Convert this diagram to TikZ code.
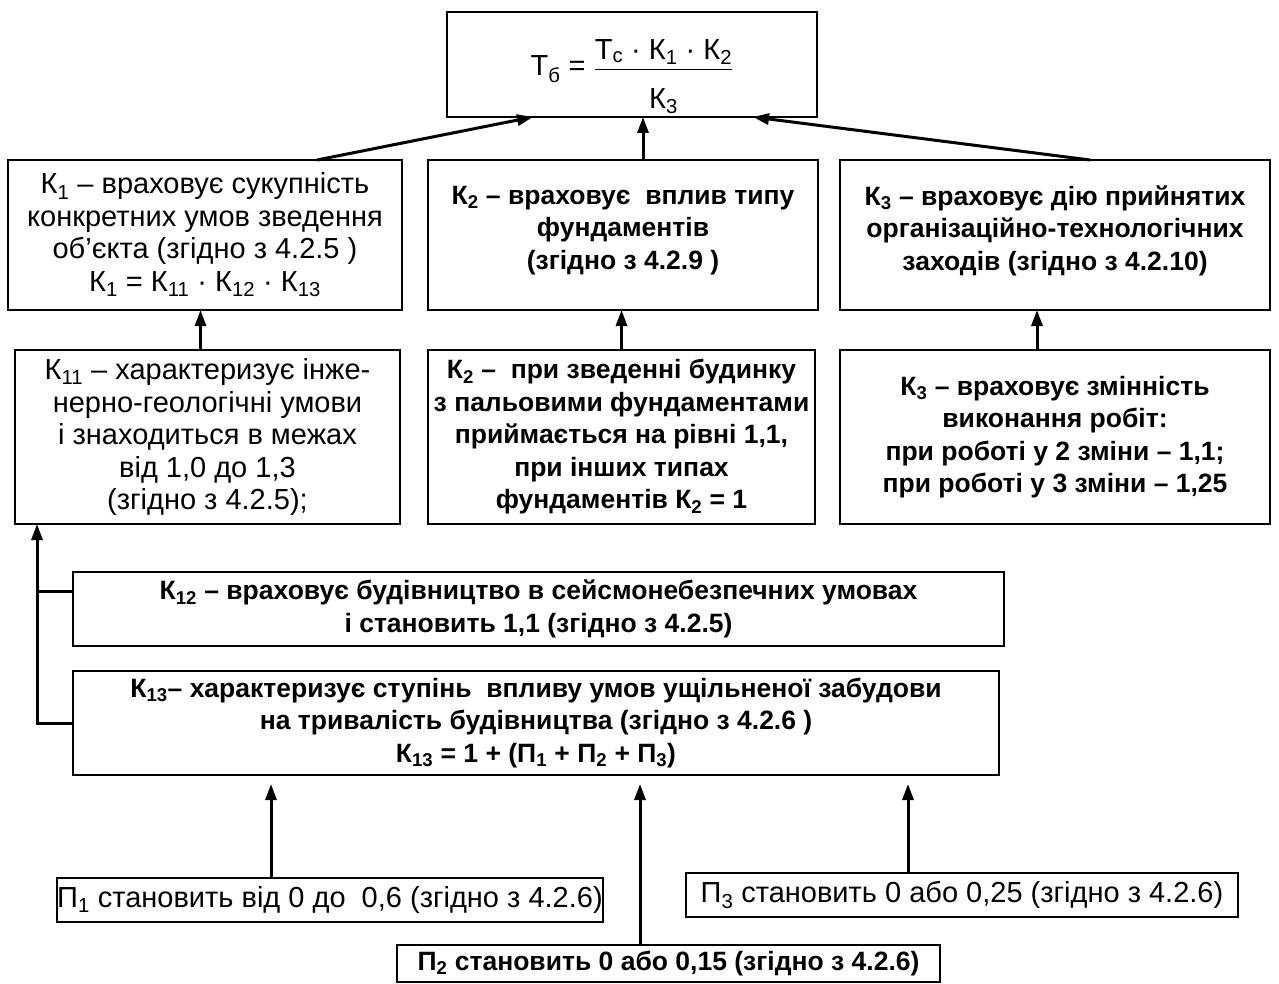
\documentclass[tikz,border=0pt]{standalone}
\usepackage{fontspec}
\setmainfont{Liberation Sans}
\usepackage{amsmath}
\usepackage{tikz}
\usetikzlibrary{positioning,arrows.meta}

\begin{document}
\begin{tikzpicture}[x=1pt, y=-1pt, every node/.style={font=\fontsize{29}{32.5}\selectfont}]
    \tikzstyle{box}=[ %
      draw, rectangle,
      line width=2.5pt,
      align=center,
      inner sep=0, outer sep=0
    ]
    \tikzstyle{strong}=[font=\fontsize{26.5}{32.5}\selectfont\bfseries]
    \tikzstyle{link}=[line width=3pt, -{Triangle[length=16pt,width=11pt]}]
    \useasboundingbox (0,0) rectangle (1279,984);
  %  formula
    \path (632,64.5) node(top) [box,minimum width=370,minimum height=105,text height=23pt,text depth=0pt]
                {Т\textsubscript{б} = $\dfrac{\text{Т\textsubscript{с} · К\textsubscript{1} · К\textsubscript{2}}\rule[-4pt]{0pt}{4pt}}{\text{К\textsubscript{3}}\rule{0pt}{35pt}}$};
  %  coefficients
    \path (205,235) node(k1) [box,minimum width=394,minimum height=150]
                {К\textsubscript{1} – враховує сукупність\\
                 конкретних умов зведення\\
                 об'єкта (згідно з 4.2.5 )\\
                 К\textsubscript{1} = К\textsubscript{11} · К\textsubscript{12} · К\textsubscript{13}}
          (623,235) node(k2) [box,strong,minimum width=390,minimum height=150]
                {К\textsubscript{2} – враховує \ вплив типу\\
                 фундаментів\\
                 (згідно з 4.2.9 )\\[-18pt]}
          (1055,235) node(k3) [box,strong,minimum width=430,minimum height=150]
                {К\textsubscript{3} – враховує дію прийнятих\\
                 організаційно-технологічних\\
                 заходів (згідно з 4.2.10)\\[-18pt]};
  %  details
    \path (207.5,437) node(k11) [box,minimum width=385,minimum height=174]
                {К\textsubscript{11} – характеризує інже-\\
                 нерно-геологічні умови\\
                 і знаходиться в межах\\
                 від 1,0 до 1,3\\
                 (згідно з 4.2.5);}
          (621.5,437) node(k2b) [box,strong,minimum width=387,minimum height=174]
                {К\textsubscript{2} – \ при зведенні будинку\\
                 з пальовими фундаментами\\
                 приймається на рівні 1,1,\\
                 при інших типах\\
                 фундаментів К\textsubscript{2} = 1}
          (1055,437) node(k3b) [box,strong,minimum width=430,minimum height=174]
                {К\textsubscript{3} – враховує змінність\\
                 виконання робіт:\\
                 при роботі у 2 зміни – 1,1;\\
                 при роботі у 3 зміни – 1,25};
    \path (538.5,609) node(k12) [box,strong,minimum width=931,minimum height=74]
                {К\textsubscript{12} – враховує будівництво в сейсмонебезпечних умовах\\
                 і становить 1,1 (згідно з 4.2.5)}
          (536,723) node(k13) [box,strong,minimum width=926,minimum height=104]
                {К\textsubscript{13}– характеризує ступінь \ впливу умов ущільненої забудови\\
                 на тривалість будівництва (згідно з 4.2.6 )\\
                 К\textsubscript{13} = 1 + (П\textsubscript{1} + П\textsubscript{2} + П\textsubscript{3})};
    \path (330,900) node(p1) [box,minimum width=546,minimum height=44]
                {П\textsubscript{1} становить від 0 до \ 0,6 (згідно з 4.2.6)}
          (668.5,963.5) node(p2) [box,strong,minimum width=543,minimum height=37]
                {П\textsubscript{2} становить 0 або 0,15 (згідно з 4.2.6)}
          (962,895) node(p3) [box,minimum width=552,minimum height=44]
                {П\textsubscript{3} становить 0 або 0,25 (згідно з 4.2.6)};
  %  arrows
    \draw[link] ([xshift=112pt]k1.north) -- ([xshift=-99pt]top.south);
    \draw[link] ([xshift=20pt]k2.north) -- ([xshift=20pt]k2.north |- top.south);
    \draw[link] ([xshift=35pt]k3.north) -- ([xshift=-64pt]top.south east);
    \draw[link] ([xshift=-7pt]k11.north) -- ([xshift=-7pt]k11.north |- k1.south);
    \draw[link] (k2b.north) -- (k2b.north |- k2.south);
    \draw[link] ([xshift=-18pt]k3b.north) -- ([xshift=-18pt]k3b.north |- k3.south);
    \draw[link] (k13.west) -| ([xshift=22pt]k11.south west);
    \draw[line width=3pt] ([yshift=18pt]k12.west) -- ++(-36,0);
    \draw[link,shorten >=9pt] ([xshift=-59pt]p1.north) -- ([xshift=-59pt]p1.north |- k13.south);
    \draw[link,shorten >=9pt] ([xshift=-28.5pt]p2.north) -- ([xshift=-28.5pt]p2.north |- k13.south);
    \draw[link,shorten >=9pt] ([xshift=-54pt]p3.north) -- ([xshift=-54pt]p3.north |- k13.south);
\end{tikzpicture}
\end{document}
